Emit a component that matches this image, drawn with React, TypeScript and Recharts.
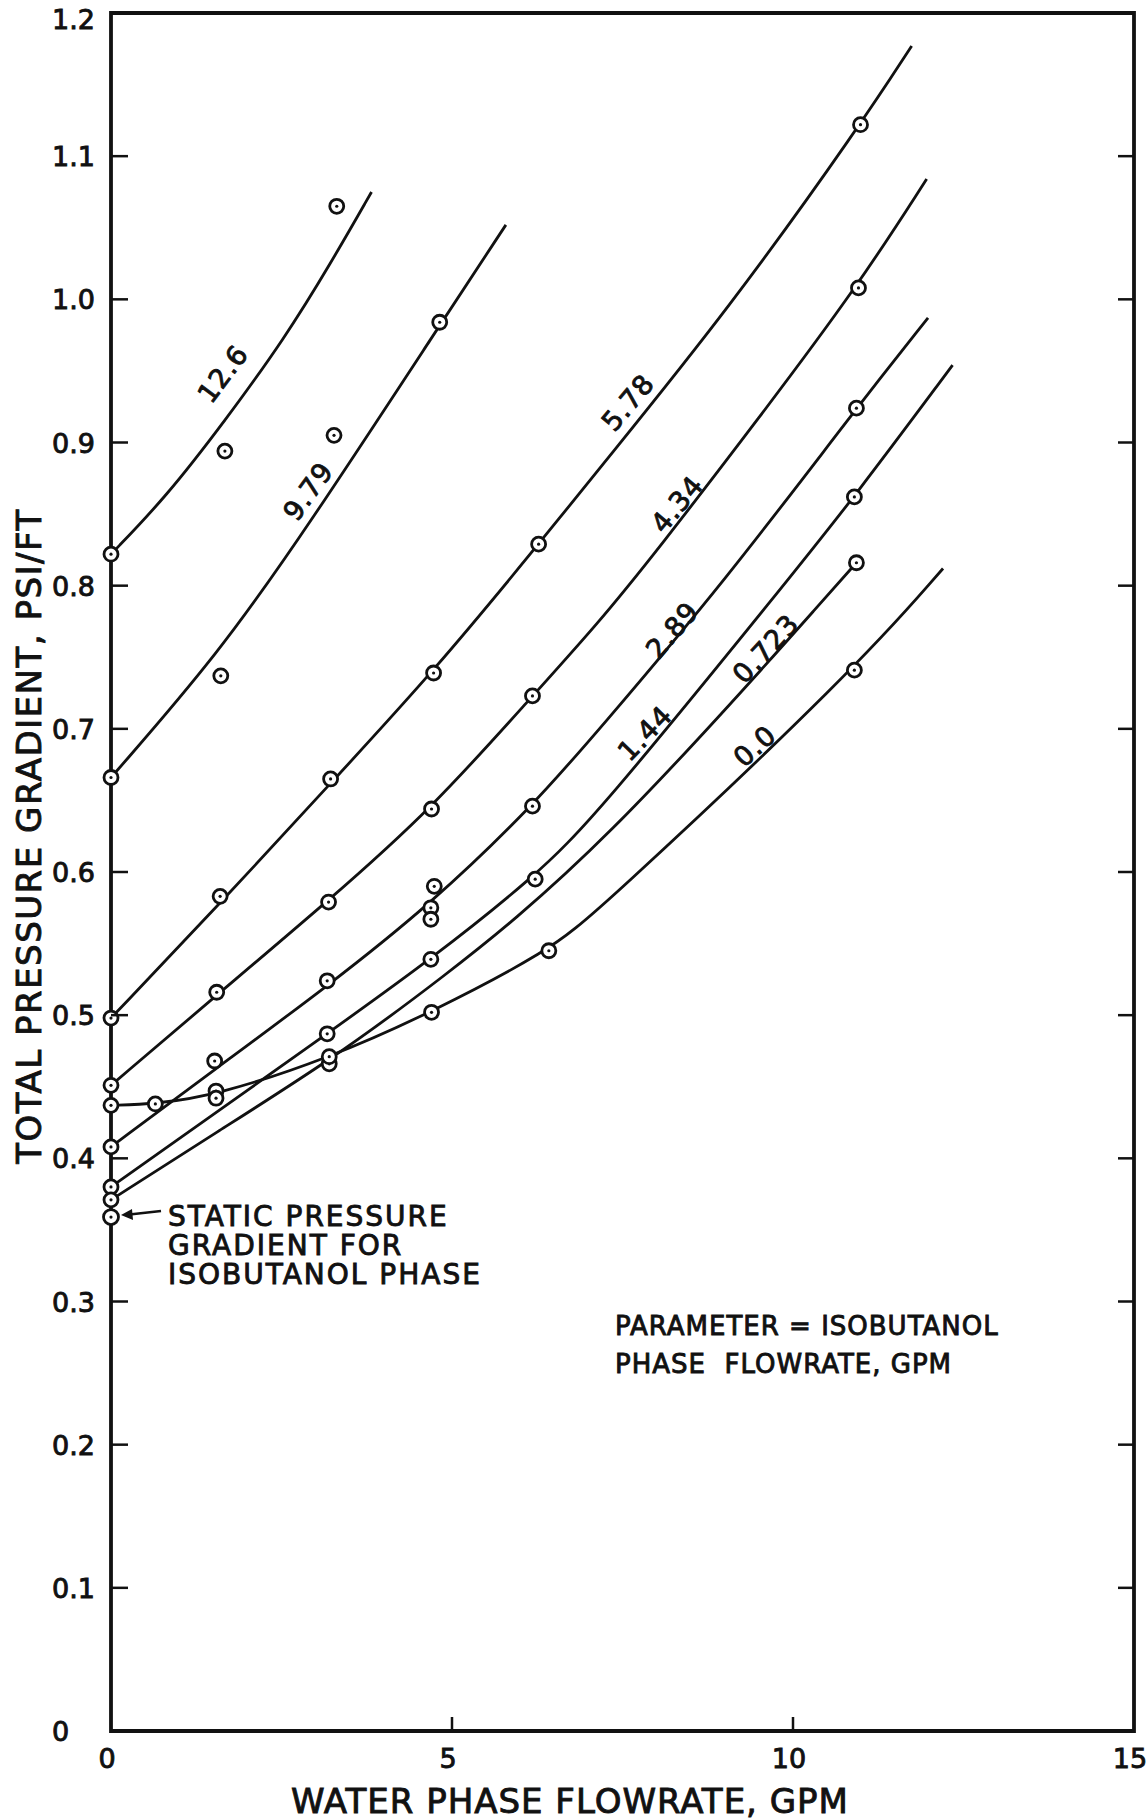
import { ComposedChart, Line, Scatter, XAxis, YAxis, ReferenceArea, ReferenceDot } from 'recharts';

type Pt = { x: number; y: number };
const pts = (rows: number[][]): Pt[] => rows.map(([x, y]) => ({ x, y }));

// faired curves, water flowrate (GPM) vs total pressure gradient (psi/ft)
const curve12_6 = pts([[0, 0.822], [0.79, 0.861], [1.67, 0.915], [2.55, 0.973], [3.22, 1.025], [3.82, 1.075]]);
const curve9_79 = pts([[0, 0.666], [1.57, 0.752], [2.87, 0.84], [4.85, 0.984], [5.79, 1.052]]);
const curve5_78 = pts([[0, 0.498], [1.6, 0.578], [3.22, 0.662], [4.73, 0.74], [6.27, 0.829], [7.13, 0.88], [9.07, 0.994], [10.99, 1.122], [11.74, 1.177]]);
const curve4_34 = pts([[0, 0.451], [1.55, 0.514], [3.19, 0.58], [4.7, 0.644], [6.18, 0.723], [7.13, 0.773], [8.0, 0.824], [9.5, 0.917], [10.96, 1.01], [11.96, 1.084]]);
const curve2_89 = pts([[0, 0.408], [1.52, 0.462], [3.17, 0.52], [4.7, 0.578], [6.18, 0.646], [7.13, 0.698], [9.0, 0.803], [10.93, 0.924], [11.98, 0.987]]);
const curve1_44 = pts([[0, 0.38], [3.17, 0.487], [4.69, 0.539], [6.22, 0.597], [7.13, 0.64], [9.91, 0.803], [10.9, 0.862], [12.34, 0.954]]);
const curve0_723 = pts([[0, 0.371], [1.54, 0.418], [3.2, 0.468], [4.7, 0.52], [7.13, 0.612], [10.93, 0.816]]);
const curve0_0 = pts([[0, 0.437], [0.65, 0.438], [1.54, 0.444], [3.2, 0.47], [4.7, 0.502], [6.42, 0.545], [7.13, 0.572], [10.9, 0.741], [12.2, 0.812]]);

const curves = [curve12_6, curve9_79, curve5_78, curve4_34, curve2_89, curve1_44, curve0_723, curve0_0];

// measured points
const observed = pts([
  [0, 0.822], [1.67, 0.894], [3.31, 1.065],
  [0, 0.666], [1.61, 0.737], [3.27, 0.905], [4.82, 0.984],
  [0, 0.498], [1.6, 0.583], [3.22, 0.665], [4.73, 0.739], [6.27, 0.829], [10.99, 1.122],
  [0, 0.451], [1.55, 0.516], [3.19, 0.579], [4.7, 0.644], [6.18, 0.723], [10.96, 1.008],
  [0, 0.408], [1.52, 0.468], [3.17, 0.524], [4.69, 0.575], [4.69, 0.567], [4.74, 0.59], [6.18, 0.646], [10.93, 0.924],
  [0, 0.38], [3.17, 0.487], [4.69, 0.539], [6.22, 0.595], [10.9, 0.862],
  [0, 0.371], [3.2, 0.466], [10.93, 0.816],
  [0, 0.437], [0.65, 0.438], [1.54, 0.447], [1.54, 0.442], [3.2, 0.471], [4.7, 0.502], [6.42, 0.545], [10.9, 0.741],
]);

const staticPoint = { x: 0, y: 0.359 };

const curveLabels = [
  { text: '12.6', x: 1.64, y: 0.948, angle: -53 },
  { text: '9.79', x: 2.89, y: 0.866, angle: -54 },
  { text: '5.78', x: 7.58, y: 0.928, angle: -50 },
  { text: '4.34', x: 8.3, y: 0.857, angle: -50 },
  { text: '2.89', x: 8.23, y: 0.769, angle: -49 },
  { text: '1.44', x: 7.83, y: 0.697, angle: -46 },
  { text: '0.723', x: 9.6, y: 0.756, angle: -47 },
  { text: '0.0', x: 9.44, y: 0.688, angle: -42 },
];

const xTicks = [0, 5, 10, 15];
const yTicks = [0, 0.1, 0.2, 0.3, 0.4, 0.5, 0.6, 0.7, 0.8, 0.9, 1.0, 1.1, 1.2];

const INK = '#111';
const FONT = '"DejaVu Sans", sans-serif';
const PLOT_LEFT = 111;
const PLOT_RIGHT = 1134;
const PLOT_BOTTOM = 1731;

const textStyle = { fill: INK, stroke: INK, strokeWidth: 0.9, fontFamily: FONT };

function XTick(props: any) {
  const { x, payload } = props;
  const v = payload.value;
  return (
    <g>
      {v > 0 && v < 15 ? <line x1={x} x2={x} y1={PLOT_BOTTOM} y2={PLOT_BOTTOM - 14} stroke={INK} strokeWidth={2.5} /> : null}
      <text x={x - 4} y={1768} textAnchor="middle" fontSize={27} {...textStyle}>
        {v}
      </text>
    </g>
  );
}

function YTick(props: any) {
  const { y, payload } = props;
  const v = payload.value;
  const inner = v > 0 && v < 1.2;
  // the top label sits a little below its tick, clear of the page edge
  const dy = v >= 1.2 ? 16 : 10;
  return (
    <g>
      {inner ? <line x1={PLOT_LEFT} x2={PLOT_LEFT + 17} y1={y} y2={y} stroke={INK} strokeWidth={2.5} /> : null}
      {inner ? <line x1={PLOT_RIGHT - 16} x2={PLOT_RIGHT} y1={y} y2={y} stroke={INK} strokeWidth={2.5} /> : null}
      <text x={52} y={y + dy} textAnchor="start" fontSize={27} {...textStyle}>
        {v === 0 ? '0' : v.toFixed(1)}
      </text>
    </g>
  );
}

function Ring(props: any) {
  const { cx, cy } = props;
  return (
    <g>
      <circle cx={cx} cy={cy} r={7} fill="#fff" stroke={INK} strokeWidth={2.8} />
      <circle cx={cx} cy={cy} r={1.6} fill={INK} />
    </g>
  );
}

function StaticNote(props: any) {
  const { cx, cy } = props;
  const tx = cx + 57;
  return (
    <g>
      <circle cx={cx} cy={cy} r={7.5} fill="#fff" stroke={INK} strokeWidth={2.8} />
      <circle cx={cx} cy={cy} r={1.6} fill={INK} />
      <line x1={cx + 50} y1={cy - 6} x2={cx + 14} y2={cy - 2} stroke={INK} strokeWidth={2.5} />
      <path d={`M ${cx + 10} ${cy - 2} l 11 -6 l 1 11 z`} fill={INK} />
      <g fontSize={28} {...textStyle} letterSpacing={2}>
        <text x={tx} y={cy + 9}>STATIC PRESSURE</text>
        <text x={tx} y={cy + 38}>GRADIENT FOR</text>
        <text x={tx} y={cy + 67}>ISOBUTANOL PHASE</text>
      </g>
    </g>
  );
}

function curveLabelShape(text: string, angle: number) {
  return (props: any) => {
    const { cx, cy } = props;
    return (
      <text
        x={cx}
        y={cy}
        textAnchor="middle"
        dominantBaseline="central"
        fontSize={27}
        letterSpacing={1}
        transform={`rotate(${angle} ${cx} ${cy})`}
        {...textStyle}
      >
        {text}
      </text>
    );
  };
}

export default function App() {
  return (
    <div style={{ position: 'absolute', left: 0, top: 0, width: 1147, height: 1820, background: '#fff' }}>
      <ComposedChart width={1147} height={1820} margin={{ top: 13, right: 13, bottom: 0, left: 0 }}>
        <XAxis
          type="number"
          dataKey="x"
          domain={[0, 15]}
          ticks={xTicks}
          height={89}
          axisLine={false}
          tickLine={false}
          tick={<XTick />}
          interval={0}
        />
        <YAxis
          type="number"
          dataKey="y"
          domain={[0, 1.2]}
          ticks={yTicks}
          width={111}
          axisLine={false}
          tickLine={false}
          tick={<YTick />}
          interval={0}
        />
        <ReferenceArea x1={0} x2={15} y1={0} y2={1.2} fill="none" stroke={INK} strokeWidth={3.8} />
        {curves.map((c, i) => (
          <Line
            key={i}
            data={c}
            dataKey="y"
            type="basis"
            stroke={INK}
            strokeWidth={2.8}
            dot={false}
            activeDot={false}
            isAnimationActive={false}
          />
        ))}
        <Scatter data={observed} dataKey="y" shape={<Ring />} isAnimationActive={false} />
        <ReferenceDot x={staticPoint.x} y={staticPoint.y} r={7} shape={<StaticNote />} />
        {curveLabels.map((l) => (
          <ReferenceDot key={l.text} x={l.x} y={l.y} r={1} shape={curveLabelShape(l.text, l.angle)} />
        ))}
      </ComposedChart>
      <svg width={1147} height={1820} style={{ position: 'absolute', left: 0, top: 0, pointerEvents: 'none' }}>
        <text x={570} y={1813} textAnchor="middle" fontSize={34} letterSpacing={1} {...textStyle}>
          WATER PHASE FLOWRATE, GPM
        </text>
        <text
          x={41}
          y={836}
          textAnchor="middle"
          fontSize={34}
          letterSpacing={1.5}
          transform="rotate(-90 41 836)"
          {...textStyle}
        >
          TOTAL PRESSURE GRADIENT, PSI/FT
        </text>
        <g fontSize={26} {...textStyle} letterSpacing={1}>
          <text x={615} y={1335}>PARAMETER = ISOBUTANOL</text>
          <text x={615} y={1373}>PHASE&#160;&#160;FLOWRATE, GPM</text>
        </g>
      </svg>
    </div>
  );
}
